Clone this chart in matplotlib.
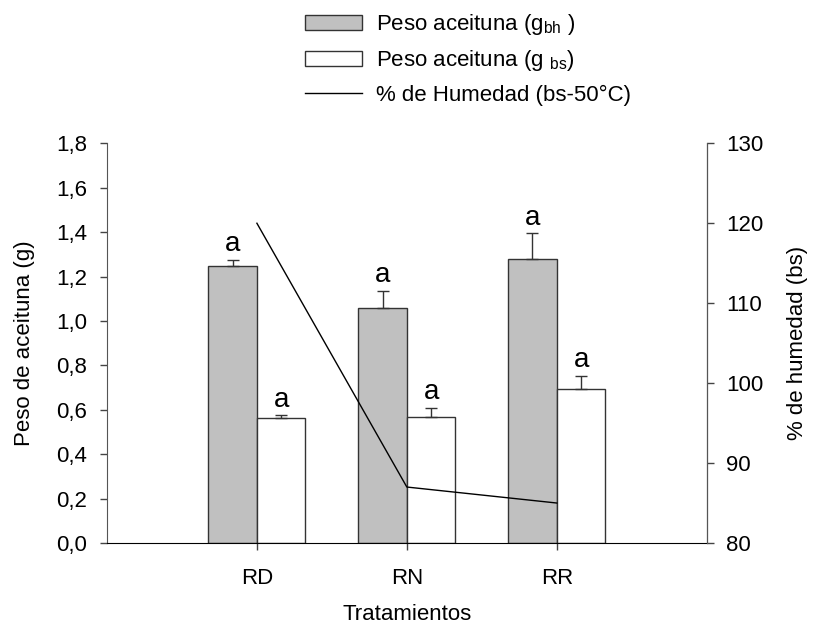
import numpy as np
import matplotlib.pyplot as plt
from matplotlib.ticker import FuncFormatter

plt.rcParams['font.family'] = ['Liberation Sans', 'DejaVu Sans']

# data
tratamientos = ['RD', 'RN', 'RR']
peso_bh = [1.248, 1.057, 1.279]
err_bh = [0.028, 0.078, 0.116]
peso_bs = [0.565, 0.566, 0.692]
err_bs = [0.010, 0.043, 0.060]
humedad = [120.0, 87.0, 85.0]
letras_bh = ['a', 'a', 'a']
letras_bs = ['a', 'a', 'a']

fs = 16

fig = plt.figure(figsize=(8.14, 6.26), dpi=100)
ax = fig.add_axes([0.1314, 0.1326, 0.7368, 0.6385])
ax2 = ax.twinx()

x = np.arange(1, len(tratamientos) + 1)
w = 0.324
ax.bar(x - w / 2, peso_bh, w, color='#c0c0c0', edgecolor='#333333', lw=1,
       label=r'Peso aceituna (g$_{\mathregular{bh}}$ )', zorder=2)
ax.bar(x + w / 2, peso_bs, w, color='white', edgecolor='#333333', lw=1,
       label=r'Peso aceituna (g $_{\mathregular{bs}}$)', zorder=2)
ax.errorbar(x - w / 2, peso_bh, yerr=[np.zeros(3), err_bh], fmt='none',
            ecolor='#333333', elinewidth=1, capsize=4, capthick=1, zorder=3)
ax.errorbar(x + w / 2, peso_bs, yerr=[np.zeros(3), err_bs], fmt='none',
            ecolor='#333333', elinewidth=1, capsize=4, capthick=1, zorder=3)

for xi, v, e, t in zip(x - w / 2, peso_bh, err_bh, letras_bh):
    ax.text(xi, v + e + 0.012, t, ha='center', va='bottom', fontsize=20)
for xi, v, e, t in zip(x + w / 2, peso_bs, err_bs, letras_bs):
    ax.text(xi, v + e + 0.012, t, ha='center', va='bottom', fontsize=20)

ln, = ax2.plot(x, humedad, color='black', lw=1, label='% de Humedad (bs-50°C)')

ax.set_xlim(0, 4)
ax.set_ylim(0, 1.8)
ax.set_yticks(np.arange(0, 1.81, 0.2))
ax.yaxis.set_major_formatter(FuncFormatter(lambda v, p: f'{v:.1f}'.replace('.', ',')))
ax.set_xticks(x)
ax.set_xticklabels(tratamientos)
ax2.set_ylim(80, 130)
ax2.set_yticks(range(80, 131, 10))

for a in (ax, ax2):
    a.spines['top'].set_visible(False)
    a.tick_params(direction='out', length=5, width=1, labelsize=fs, color='#444444', pad=9.5)
ax.spines['left'].set_color('#555555')
ax2.spines['right'].set_color('#555555')
ax.spines['bottom'].set_color('black')
ax2.spines['left'].set_visible(False)
ax2.spines['bottom'].set_visible(False)
ax.tick_params(axis='x', pad=13)
ax2.tick_params(axis='y', pad=9)

fig.text(407 / 814, 1 - 615 / 626, 'Tratamientos', fontsize=fs, ha='center', va='center')
fig.text(25 / 814, 1 - 343 / 626, 'Peso de aceituna (g)', fontsize=fs,
         rotation=90, ha='center', va='center')
fig.text(797 / 814, 1 - 343 / 626, '% de humedad (bs)', fontsize=fs,
         rotation=90, ha='center', va='center')

h, l = ax.get_legend_handles_labels()
fig.legend(h + [ln], l + [ln.get_label()], loc='upper left',
           bbox_to_anchor=(0.361, 0.998), frameon=False, fontsize=fs,
           handlelength=2.55, handletextpad=0.63, labelspacing=0.5, borderpad=0)

fig.savefig('out.png', dpi=100)
